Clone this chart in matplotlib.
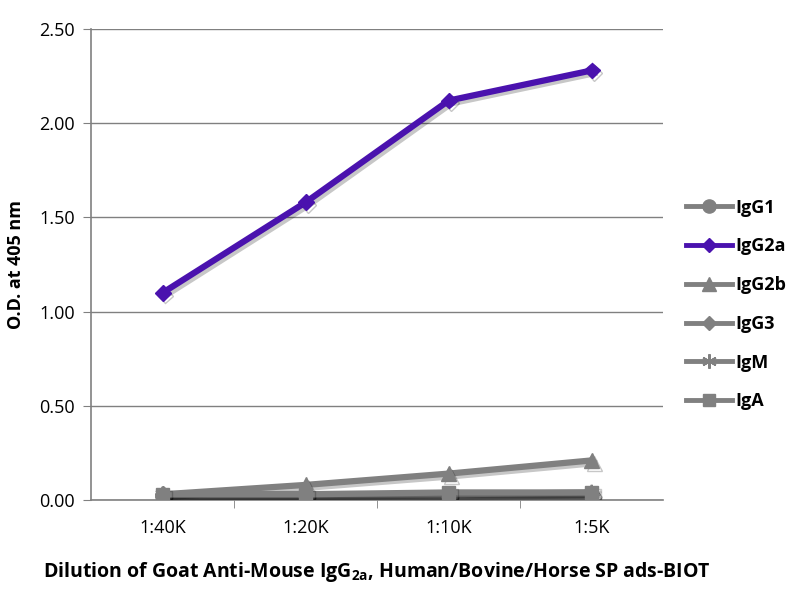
import matplotlib
matplotlib.use("Agg")
import matplotlib.pyplot as plt
import matplotlib.patheffects as pe
from matplotlib.lines import Line2D

categories = ["1:40K", "1:20K", "1:10K", "1:5K"]
series_names = ["IgG1", "IgG2a", "IgG2b", "IgG3", "IgM", "IgA"]
igg1 = [0.02, 0.02, 0.02, 0.02]
igg2a = [1.10, 1.58, 2.12, 2.28]
igg2b = [0.03, 0.08, 0.14, 0.21]
igg3 = [0.03, 0.03, 0.03, 0.03]
igm = [0.03, 0.03, 0.03, 0.04]
iga = [0.03, 0.03, 0.04, 0.04]
yticks = [0.0, 0.5, 1.0, 1.5, 2.0, 2.5]

values = [igg1, igg2a, igg2b, igg3, igm, iga]
markers = ["o", "D", "^", "D", (6, 2, 0), "s"]
msizes = [10, 8, 11, 8, 11, 9]
gray = "#808080"
colors = [gray, "#4A12AE", gray, gray, gray, gray]

plt.rcParams["font.family"] = ["Open Sans", "DejaVu Sans"]
plt.rcParams["mathtext.fontset"] = "custom"
plt.rcParams["mathtext.bf"] = "Open Sans:bold"
plt.rcParams["mathtext.rm"] = "Open Sans"

fig = plt.figure(figsize=(8, 6), dpi=100)
ax = fig.add_axes([0.114, 0.1667, 0.715, 0.785])

x = list(range(len(categories)))
shadow = [pe.SimpleLineShadow(offset=(2, -2), shadow_color="black", alpha=0.22), pe.Normal()]
order = [0, 2, 3, 4, 5, 1]
proxies = {}
for i in order:
    mk = markers[i]
    kw = dict(color=colors[i], lw=4.5, marker=mk, markersize=msizes[i],
              markerfacecolor=colors[i], markeredgecolor=colors[i])
    if i == 4:
        kw["markeredgewidth"] = 1.5
    ax.plot(x, values[i], path_effects=shadow, zorder=3 + (1 if i == 1 else 0), **kw)
    lkw = dict(kw)
    lkw["lw"] = 3.5
    lkw["markersize"] = msizes[i] * 0.95
    proxies[i] = Line2D([], [], **lkw)

ax.set_xlim(-0.5, len(categories) - 0.5)
ax.set_ylim(0, 2.5)
ax.set_yticks(yticks)
ax.set_yticklabels([f"{v:.2f}" for v in yticks], fontsize=13)
ax.set_xticks(x)
ax.set_xticklabels(categories, fontsize=13)
ax.tick_params(axis="x", length=0, pad=14)
ax.set_xticks([i + 0.5 for i in range(len(categories) - 1)], minor=True)
ax.tick_params(axis="x", which="minor", length=6, color=gray, direction="out")
ax.tick_params(axis="y", length=6, color=gray, direction="out", pad=6)
ax.grid(axis="y", color=gray, lw=1)
ax.set_axisbelow(True)
for s in ["top", "right"]:
    ax.spines[s].set_visible(False)
for s in ["left", "bottom"]:
    ax.spines[s].set_color(gray)
    ax.spines[s].set_linewidth(1.2)

ax.set_ylabel("O.D. at 405 nm", fontsize=13, fontweight="bold", labelpad=10)
ax.set_xlabel(r"Dilution of Goat Anti-Mouse IgG$_{\mathbf{2a}}$, Human/Bovine/Horse SP ads-BIOT",
              fontsize=14, fontweight="bold", labelpad=16)

leg = fig.legend([proxies[i] for i in range(6)], series_names, loc="center left",
                 bbox_to_anchor=(0.858, 0.4925), frameon=False, handlelength=2.5,
                 labelspacing=1.15, prop={"weight": "bold", "size": 13},
                 handletextpad=0.2, borderaxespad=0, borderpad=0)

fig.savefig("out.png", dpi=100)
